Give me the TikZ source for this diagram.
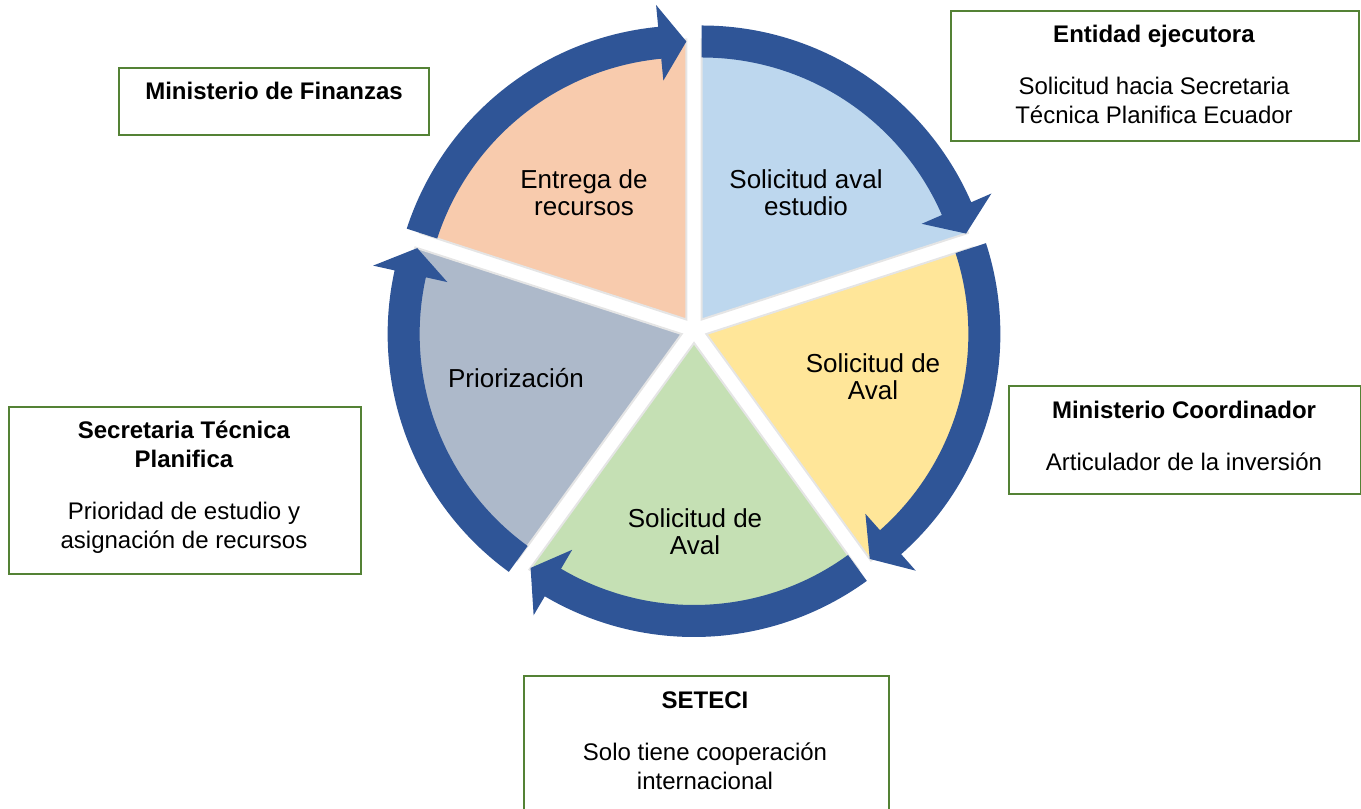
\documentclass[tikz,border=0pt]{standalone}
\usepackage{fontspec}
\setmainfont{Liberation Sans}
\definecolor{arrowblue}{HTML}{2F5597}
\definecolor{sblue}{HTML}{BDD7EE}
\definecolor{syellow}{HTML}{FFE699}
\definecolor{sgreen}{HTML}{C5E0B4}
\definecolor{sgrey}{HTML}{ADB9CA}
\definecolor{speach}{HTML}{F8CBAD}
\definecolor{boxgreen}{HTML}{548235}
\newcommand{\cycslice}[2]{%
  \pgfmathsetmacro{\cycA}{#1+36}%
  \pgfmathsetmacro{\cycB}{#1-36}%
  \begin{scope}[shift={(C)}, shift={(#1:13)}]
    \fill[#2, draw=black!10, line width=1pt] (0,0) -- (\cycA:280) arc[start angle=\cycA, end angle=\cycB, radius=280] -- cycle;
  \end{scope}}
\newcommand{\cycarrow}[1]{%
  \pgfmathsetmacro{\cycA}{#1+36}%
  \pgfmathsetmacro{\cycB}{#1-36}%
  \pgfmathsetmacro{\cycH}{#1-36+5.5}%
  \begin{scope}[shift={(C)}, shift={(#1:13)}]
    \fill[arrowblue] (\cycA:294) arc[start angle=\cycA, end angle=\cycH, radius=294] -- (\cycH:316) -- (\cycB:278) -- (\cycH:240) -- (\cycH:262) arc[start angle=\cycH, end angle=\cycA, radius=262] -- cycle;
  \end{scope}}
\begin{document}
\begin{tikzpicture}[x=0.5pt,y=0.5pt,
  slicetext/.style={align=center, font=\fontsize{13}{13.5}\selectfont, text=black, inner sep=0pt},
  box/.style={draw=boxgreen, line width=1pt, fill=white, inner sep=0pt, anchor=north west},
  boxtext/.style={align=center, font=\fontsize{12}{14.5}\selectfont, text=black, inner sep=0pt}]
\useasboundingbox (0,0) rectangle (1361,-809);
\clip (0,0) rectangle (1361,-809);
\coordinate (C) at (694,-330);
% pie slices
\cycslice{54}{sblue}
\cycslice{-18}{syellow}
\cycslice{-90}{sgreen}
\cycslice{-162}{sgrey}
\cycslice{126}{speach}
% circular arrows
\cycarrow{54}
\cycarrow{-18}
\cycarrow{-90}
\cycarrow{-162}
\cycarrow{126}
% slice labels
\node[slicetext] (s1) at (806,-193) {Solicitud aval\\estudio};
\node[slicetext] (s2) at (873,-377) {Solicitud de\\Aval};
\node[slicetext] (s3) at (695,-532) {Solicitud de\\Aval};
\node[slicetext] (s4) at (516,-378) {Priorización};
\node[slicetext] (s5) at (584,-193) {Entrega de\\recursos};
% boxes
\node[box, minimum width=155pt, minimum height=33.5pt] (b1) at (118,-67) {};
\node[boxtext] (t1) at (274,-91) {\textbf{Ministerio de Finanzas}};
\node[box, minimum width=204pt, minimum height=65pt] (b2) at (950,-10) {};
\node[boxtext] (t2) at (1154,-74) {\textbf{Entidad ejecutora}\\[11.5pt]Solicitud hacia Secretaria\\Técnica Planifica Ecuador};
\node[box, minimum width=176pt, minimum height=54pt] (b3) at (1008,-385) {};
\node[boxtext] (t3) at (1184,-436) {\textbf{Ministerio Coordinador}\\[11.5pt]Articulador de la inversión};
\node[box, minimum width=176pt, minimum height=83.5pt] (b4) at (8,-406) {};
\node[boxtext] (t4) at (184,-487) {\textbf{Secretaria Técnica}\\\textbf{Planifica}\\[11.5pt]Prioridad de estudio y\\asignación de recursos};
\node[box, minimum width=182.5pt, minimum height=70pt] (b5) at (523,-675) {};
\node[boxtext] (t5) at (705,-741) {\textbf{SETECI}\\[11.5pt]Solo tiene cooperación\\internacional};
\end{tikzpicture}
\end{document}
